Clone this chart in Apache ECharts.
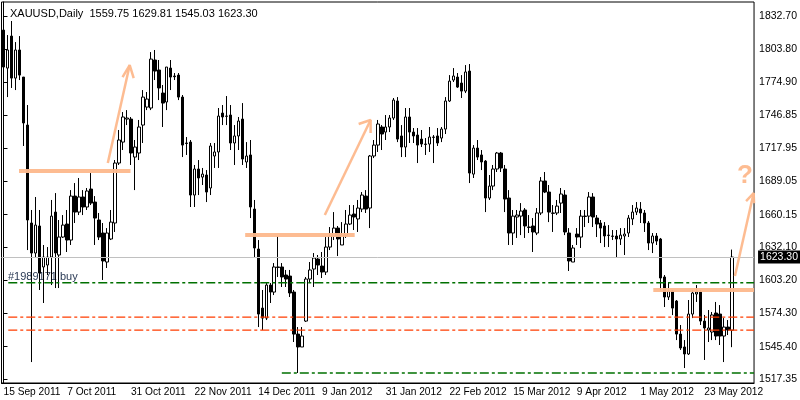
<!DOCTYPE html>
<html><head><meta charset="utf-8">
<script src="https://cdn.jsdelivr.net/npm/echarts@6/dist/echarts.min.js"></script>
<style>html,body{margin:0;padding:0;background:#fff}#c{width:800px;height:400px}</style>
</head><body><div id="c"></div>
<script>
// [open, close, low, high]
const candles = [
[1820.5,1788.4,1772.8,1826.6],[1787.5,1803.2,1762.3,1816.2],[1815.3,1778.8,1770.2,1828.4],[1778.8,1803.2,1768.4,1810.1],
[1803.2,1781.4,1777.1,1815.3],[1779.7,1739.8,1719.8,1779.7],[1738.0,1655.5,1629.4,1755.4],[1652.9,1626.8,1532.1,1664.2],
[1626.8,1651.1,1622.5,1675.5],[1650.3,1609.4,1594.7,1664.2],[1614.7,1623.3,1583.4,1633.8],[1616.4,1623.3,1607.7,1632.0],
[1623.3,1658.9,1599.0,1672.9],[1662.4,1626.8,1596.4,1678.9],[1625.1,1640.7,1596.4,1655.5],[1640.7,1651.1,1639.9,1659.8],
[1652.0,1638.1,1627.7,1664.2],[1638.1,1676.3,1633.8,1681.5],[1676.3,1662.4,1652.9,1687.6],[1662.4,1675.5,1659.8,1692.0],
[1675.5,1666.8,1659.8,1681.5],[1666.8,1680.7,1664.2,1683.3],[1682.4,1670.2,1668.5,1696.3],[1671.1,1657.2,1633.8,1676.3],
[1655.5,1640.7,1638.1,1661.6],[1644.2,1619.9,1603.4,1652.9],[1619.0,1644.2,1613.8,1648.5],[1639.0,1653.7,1638.1,1664.2],
[1652.9,1705.0,1645.1,1707.6],[1705.0,1725.0,1703.3,1733.7],[1723.2,1745.0,1716.3,1749.3],[1743.2,1744.1,1738.0,1751.0],
[1743.2,1713.7,1703.3,1745.0],[1710.2,1718.9,1681.5,1725.0],[1713.7,1736.3,1707.6,1742.4],[1738.0,1762.3,1722.4,1768.4],
[1753.6,1760.6,1751.0,1766.7],[1752.8,1795.3,1751.0,1801.4],[1794.5,1784.9,1777.1,1803.2],[1785.8,1770.2,1759.7,1794.5],
[1765.8,1757.1,1736.3,1772.8],[1758.0,1788.4,1751.0,1788.4],[1787.5,1779.7,1768.4,1794.5],[1780.6,1780.0,1777.1,1783.2],
[1781.4,1762.3,1759.7,1783.2],[1762.3,1720.6,1710.2,1764.1],[1722.4,1722.0,1712.0,1727.6],[1723.2,1677.2,1666.8,1725.0],
[1677.2,1699.8,1666.8,1703.3],[1699.8,1692.0,1677.2,1707.6],[1692.8,1695.4,1685.9,1700.7],[1694.6,1679.8,1671.1,1698.9],
[1683.3,1719.8,1677.2,1722.4],[1711.1,1714.6,1700.7,1722.4],[1714.6,1745.8,1700.7,1752.8],[1748.4,1745.0,1738.0,1755.4],
[1745.8,1745.6,1738.0,1763.2],[1746.7,1722.4,1716.3,1755.4],[1722.4,1728.5,1703.3,1738.0],[1728.5,1741.5,1716.3,1745.0],
[1743.2,1708.5,1703.3,1757.1],[1705.9,1711.1,1700.7,1723.2],[1712.0,1666.8,1657.2,1725.0],[1665.0,1631.2,1622.5,1672.9],
[1630.3,1573.8,1562.5,1638.1],[1579.0,1570.3,1559.9,1594.7],[1570.3,1599.0,1568.6,1600.8],[1599.0,1592.9,1583.4,1600.8],
[1592.9,1614.7,1590.3,1618.1],[1614.7,1614.3,1606.0,1641.6],[1614.7,1606.0,1597.3,1618.1],[1607.7,1604.2,1597.3,1612.1],
[1606.8,1592.1,1588.6,1612.1],[1592.9,1556.4,1549.5,1594.7],[1556.4,1545.2,1522.6,1562.5],[1545.2,1554.7,1545.2,1562.5],
[1567.7,1604.2,1566.9,1606.0],[1604.2,1612.1,1600.8,1619.0],[1612.9,1622.5,1597.3,1626.8],[1621.6,1616.4,1607.7,1625.1],
[1615.5,1610.3,1605.1,1627.7],[1610.3,1632.0,1607.7,1640.7],[1632.0,1641.6,1629.4,1649.4],[1641.6,1648.5,1638.1,1662.4],
[1648.5,1639.0,1624.2,1650.3],[1633.8,1642.4,1633.8,1653.7],[1642.4,1652.0,1639.9,1664.2],[1652.0,1659.8,1651.1,1668.5],
[1660.7,1658.1,1646.8,1668.5],[1656.4,1665.9,1645.1,1672.9],[1665.0,1677.2,1662.4,1679.8],[1676.3,1665.0,1661.6,1681.5],
[1665.9,1711.1,1648.5,1712.0],[1711.1,1720.6,1709.3,1725.0],[1720.6,1738.9,1714.6,1742.4],[1736.3,1730.2,1716.3,1738.0],
[1731.9,1736.3,1725.0,1746.7],[1736.3,1744.1,1731.9,1746.7],[1744.1,1759.7,1742.4,1761.5],[1758.9,1725.8,1723.2,1762.3],
[1728.5,1718.9,1710.2,1738.0],[1718.9,1745.0,1710.2,1752.8],[1745.0,1731.9,1722.4,1752.8],[1731.9,1728.5,1722.4,1735.4],
[1729.3,1720.6,1705.0,1735.4],[1725.8,1721.5,1718.9,1733.7],[1721.5,1721.2,1712.0,1726.7],[1721.5,1727.6,1714.6,1736.3],
[1727.6,1727.3,1705.0,1729.3],[1728.5,1722.4,1719.8,1735.4],[1726.7,1734.5,1723.2,1736.3],[1734.5,1758.9,1730.2,1762.3],
[1758.9,1776.2,1758.0,1781.4],[1777.1,1780.6,1775.4,1787.5],[1779.7,1771.0,1770.2,1783.2],[1774.5,1767.5,1761.5,1781.4],
[1767.5,1784.1,1765.8,1790.1],[1784.9,1696.3,1687.6,1791.0],[1695.4,1718.0,1692.0,1720.6],[1718.0,1710.2,1707.6,1725.0],
[1712.0,1705.9,1698.9,1716.3],[1706.7,1674.6,1662.4,1707.6],[1674.6,1685.0,1672.9,1694.6],[1685.0,1699.8,1681.5,1703.3],
[1699.8,1713.7,1697.2,1714.6],[1713.7,1700.7,1697.2,1714.6],[1699.8,1673.7,1662.4,1703.3],[1674.6,1644.2,1633.8,1681.5],
[1644.2,1658.9,1633.8,1664.2],[1658.1,1659.8,1639.9,1664.2],[1658.9,1663.3,1642.4,1670.2],[1664.2,1650.3,1639.9,1665.9],
[1649.4,1649.1,1644.2,1659.8],[1650.3,1645.1,1627.7,1657.2],[1644.2,1661.6,1642.4,1665.9],[1661.6,1689.4,1659.8,1692.8],
[1689.4,1679.8,1678.9,1697.2],[1679.8,1662.4,1653.7,1685.9],[1661.6,1661.3,1645.1,1668.5],[1661.6,1667.6,1659.8,1672.9],
[1670.2,1678.1,1661.6,1683.3],[1677.2,1645.1,1642.4,1681.5],[1644.2,1619.9,1611.2,1648.5],[1619.0,1631.2,1619.0,1633.8],
[1643.3,1640.7,1633.8,1648.5],[1640.7,1658.9,1631.2,1664.2],[1658.9,1658.6,1649.4,1664.2],[1658.9,1675.5,1652.9,1679.8],
[1675.5,1658.1,1649.4,1678.9],[1657.2,1652.0,1640.7,1659.8],[1652.9,1648.5,1635.5,1655.5],[1650.3,1641.6,1632.0,1653.7],
[1642.4,1642.1,1632.0,1651.1],[1641.6,1641.3,1638.1,1646.8],[1641.6,1639.0,1623.3,1646.8],[1639.0,1642.4,1633.8,1648.5],
[1641.6,1643.3,1625.1,1648.5],[1644.2,1657.2,1640.7,1659.8],[1656.4,1662.4,1651.1,1668.5],[1662.4,1665.9,1659.8,1671.1],
[1665.0,1661.6,1652.9,1671.1],[1661.6,1652.9,1645.1,1664.2],[1652.9,1635.5,1629.4,1654.6],[1635.5,1641.6,1626.8,1644.2],
[1641.6,1637.2,1633.8,1644.2],[1639.0,1605.1,1594.7,1639.9],[1606.0,1588.6,1579.9,1607.7],[1588.6,1593.8,1586.0,1601.6],
[1593.8,1579.0,1572.9,1594.7],[1585.1,1556.4,1551.2,1586.0],[1556.4,1544.3,1542.6,1564.3],[1545.2,1539.1,1526.9,1551.2],
[1539.1,1573.8,1538.2,1586.0],[1573.8,1592.1,1570.3,1594.7],[1591.2,1592.9,1584.3,1599.0],[1592.9,1567.7,1564.3,1594.7],
[1567.7,1561.7,1533.9,1573.0],[1559.9,1561.7,1549.5,1577.3],[1558.2,1573.0,1551.2,1575.6],[1574.7,1554.7,1551.2,1584.3],
[1573.8,1554.7,1546.9,1581.6],[1554.7,1562.5,1532.1,1570.3],[1562.5,1559.9,1555.6,1568.6],[1559.75,1623.30,1545.03,1629.81]
];
const dateLabels = ['15 Sep 2011','7 Oct 2011','31 Oct 2011','22 Nov 2011','14 Dec 2011','9 Jan 2012','31 Jan 2012','22 Feb 2012','15 Mar 2012','9 Apr 2012','1 May 2012','23 May 2012'];
const priceTicks = [1832.70,1803.80,1774.90,1746.85,1717.95,1689.05,1660.15,1632.10,1603.20,1574.30,1545.40,1517.35];
const lastPrice = 1623.30;
const greenLevels = [1601.0, 1522.6];
const redLevels = [1571.2, 1559.9];
const TOTAL = 189, STEP = 16;
const categories = Array.from({length: TOTAL}, (_, i) => i);
const data = categories.map(i => i < candles.length ? candles[i] : '-');
const peach = 'rgba(253,184,140,0.95)';
const dashDot = [9,3,3,3];
function seg(pts, w){ return {type:'line', xAxisIndex:1, yAxisIndex:0, data:pts, symbol:'none', silent:true, lineStyle:{color:peach, width:w}, z:5}; }
function lvl(y, x0, color){ return {type:'line', xAxisIndex:1, data:[[x0,y],[188.5,y]], symbol:'none', silent:true, lineStyle:{color, width:1.3, type:dashDot}, z:3}; }
const ch = echarts.init(document.getElementById('c'));
ch.setOption({
  animation:false, backgroundColor:'#fff',
  textStyle:{fontFamily:'Liberation Sans'},
  grid:{left:1.5, right:42, top:2, bottom:17, show:true, borderColor:'#000', borderWidth:1},
  xAxis:[{type:'category', data:categories, boundaryGap:true,
      axisLine:{lineStyle:{color:'#000'}},
      axisTick:{interval:(i)=>i%STEP===0, alignWithLabel:true, length:4, lineStyle:{color:'#000'}},
      axisLabel:{interval:(i)=>i%STEP===0, formatter:(v)=>dateLabels[v/STEP]||'', align:'left', margin:4, fontSize:10.2, color:'#000'},
      splitLine:{show:false}},
    {type:'value', min:-0.5, max:188.5, show:false}],
  yAxis:{type:'value', position:'right', min:1513.9, max:1844.9, scale:true,
      axisLine:{show:true, lineStyle:{color:'#000'}},
      axisTick:{show:true, length:4, customValues:priceTicks, lineStyle:{color:'#000'}},
      axisLabel:{customValues:priceTicks, formatter:(v)=>v.toFixed(2), fontSize:10.5, color:'#000', margin:5},
      splitLine:{show:false}},
  title:{text:'XAUUSD,Daily  1559.75 1629.81 1545.03 1623.30', left:5, top:3,
      textStyle:{fontSize:11, fontWeight:'normal', color:'#000', fontFamily:'Liberation Sans'}},
  graphic:[
    {type:'text', left:8, top:271, style:{text:'#1989171 buy', fontSize:11, fill:'#2a3a55', fontFamily:'Liberation Sans'}},
    {type:'text', left:737, top:163, style:{text:'?', fontSize:26, fontWeight:'bold', fill:peach, fontFamily:'Liberation Sans'}}
  ],
  series:[
    {type:'candlestick', data, barWidth:3,
      itemStyle:{color:'#fff', color0:'#000', borderColor:'#000', borderColor0:'#000', borderWidth:1},
      markLine:{symbol:'none', silent:true, data:[{yAxis:lastPrice}],
        lineStyle:{color:'#c0c0c0', type:'solid', width:1},
        label:{position:'end', formatter:()=>lastPrice.toFixed(2), backgroundColor:'#000', color:'#fff', fontSize:10.5, padding:[1,2], distance:4}}},
    lvl(greenLevels[0], 1.2, '#007000'), lvl(greenLevels[1], 69.9, '#007000'),
    lvl(redLevels[0], 1.2, '#ff3c00'), lvl(redLevels[1], 1.2, '#ff3c00'),
    seg([[3.9,1698.1],[31.9,1698.1]],4), seg([[26.2,1705.0],[31.7,1790.1]],2.5), seg([[29.9,1779.7],[31.7,1790.1],[32.7,1778.8]],2.5),
    seg([[60.7,1642.4],[88.2,1642.4]],4), seg([[80.7,1659.8],[92.2,1742.4]],2.5), seg([[89.2,1738.9],[92.2,1742.4],[92.2,1731.1]],2.5),
    seg([[163.2,1594.7],[188.5,1594.7]],4), seg([[183.7,1606.8],[188.4,1678.9]],2.5), seg([[186.5,1672.0],[188.4,1678.9],[188.5,1670.0]],2.5)
  ]
});
</script></body></html>
